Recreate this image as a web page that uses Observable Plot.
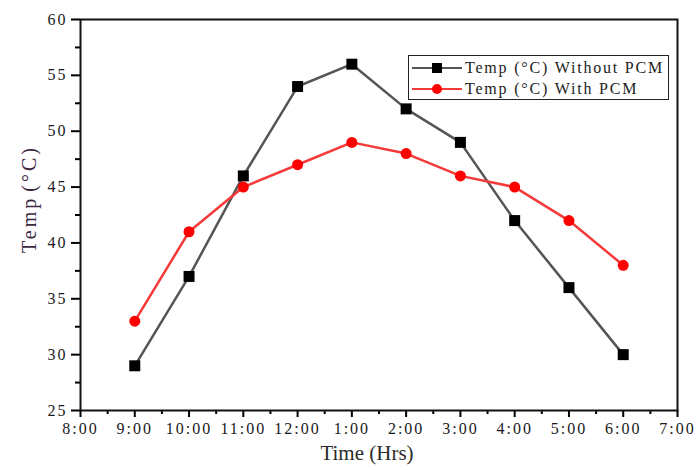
<!DOCTYPE html>
<html><head><meta charset="utf-8">
<script src="https://cdn.jsdelivr.net/npm/d3@7"></script>
<script src="https://cdn.jsdelivr.net/npm/@observablehq/plot@0.6"></script>
<style>
body{margin:0;background:#fff;}
#wrap{position:relative;width:696px;height:470px;overflow:hidden;font-family:"Liberation Serif","DejaVu Serif",serif;}
#legend{position:absolute;left:408px;top:55px;width:261px;height:45px;border:1.5px solid #222;background:#fff;font-size:16px;letter-spacing:1.8px;color:#222;box-sizing:border-box;padding-top:1px;}
.row{display:flex;align-items:center;height:21px;}
.sw{position:relative;width:50px;height:20px;margin-left:3px;margin-right:3px;flex:none;}
.sw .ln{position:absolute;left:0;right:0;top:9px;height:2.5px;}
.sw .mk{position:absolute;left:20px;top:5px;width:10px;height:10px;}
.row span{white-space:nowrap;}
</style></head>
<body>
<div id="wrap"></div>
<script>
const times = ["8:00","9:00","10:00","11:00","12:00","1:00","2:00","3:00","4:00","5:00","6:00","7:00"];
const dataTimes = ["9:00","10:00","11:00","12:00","1:00","2:00","3:00","4:00","5:00","6:00"];
const withoutPCM = [29,37,46,54,56,52,49,42,36,30];
const withPCM = [33,41,45,47,49,48,46,45,42,38];
const yTicks = [25,30,35,40,45,50,55,60];
const seriesNames = ["Temp (°C) Without PCM","Temp (°C) With PCM"];

const rowsA = dataTimes.map((t,i)=>({x:times.indexOf(t), y:withoutPCM[i]}));
const rowsB = dataTimes.map((t,i)=>({x:times.indexOf(t), y:withPCM[i]}));
const xIdx = times.map((t,i)=>i);
const xMinor = times.slice(1).map((t,i)=>i+0.5);
const yMinor = yTicks.slice(1).map(v=>v-2.5);

const plot = Plot.plot({
  width:696, height:470,
  marginLeft:80, marginRight:19, marginTop:19, marginBottom:60,
  style:{fontFamily:'"Liberation Serif","DejaVu Serif",serif', fontSize:"16px", color:"#000", background:"#fff", letterSpacing:"2px"},
  x:{type:"linear", domain:[0,11]},
  y:{domain:[25,60]},
  marks:[
    Plot.axisY({ticks:yTicks, tickSize:9, tickPadding:4, stroke:"#000", strokeOpacity:1, strokeWidth:2, label:null, fontSize:16, fill:"#1a1a1a"}),
    Plot.axisY({ticks:yMinor, tickSize:5, tickFormat:()=>"", stroke:"#000", strokeOpacity:1, strokeWidth:2, label:null}),
    Plot.axisX({ticks:xIdx, tickSize:7, tickPadding:5, stroke:"#000", strokeOpacity:1, strokeWidth:2, tickFormat:i=>times[i], label:null, fontSize:16, fill:"#1a1a1a"}),
    Plot.axisX({ticks:xMinor, tickSize:4, tickFormat:()=>"", stroke:"#000", strokeOpacity:1, strokeWidth:2, label:null}),
    Plot.frame({stroke:"#111", strokeWidth:2}),
    Plot.line(rowsA,{x:"x",y:"y",stroke:"#555",strokeWidth:2.5}),
    Plot.dot(rowsA,{x:"x",y:"y",symbol:"square",r:6.2,fill:"#000",stroke:"none"}),
    Plot.line(rowsB,{x:"x",y:"y",stroke:"#f53a3a",strokeWidth:2.5}),
    Plot.dot(rowsB,{x:"x",y:"y",symbol:"circle",r:5.5,fill:"#ff0000",stroke:"none"})
  ]
});
const wrap = document.getElementById("wrap");
wrap.appendChild(plot);
plot.style.position="absolute"; plot.style.left="0"; plot.style.top="0";

const ylab = document.createElement("div");
ylab.textContent = "Temp (°C)";
Object.assign(ylab.style,{position:"absolute",left:"29px",top:"199px",transform:"translate(-50%,-50%) rotate(-90deg)",fontSize:"20px",lineHeight:"20px",letterSpacing:"3px",wordSpacing:"-4px",color:"#3b2840",whiteSpace:"nowrap"});
wrap.appendChild(ylab);
const xlab = document.createElement("div");
xlab.textContent = "Time (Hrs)";
Object.assign(xlab.style,{position:"absolute",left:"367px",top:"442px",transform:"translateX(-50%)",fontSize:"21px",lineHeight:"22px",color:"#2a2a2a",whiteSpace:"nowrap"});
wrap.appendChild(xlab);

const lg = document.createElement("div"); lg.id="legend";
const styles=[{ln:"#555",mk:"#000",r:"0"},{ln:"#f53a3a",mk:"#ff0000",r:"50%"}];
seriesNames.forEach((n,i)=>{
  const row=document.createElement("div"); row.className="row";
  row.innerHTML=`<div class="sw"><div class="ln" style="background:${styles[i].ln}"></div><div class="mk" style="background:${styles[i].mk};border-radius:${styles[i].r}"></div></div><span>${n}</span>`;
  lg.appendChild(row);
});
wrap.appendChild(lg);
</script>
</body></html>
